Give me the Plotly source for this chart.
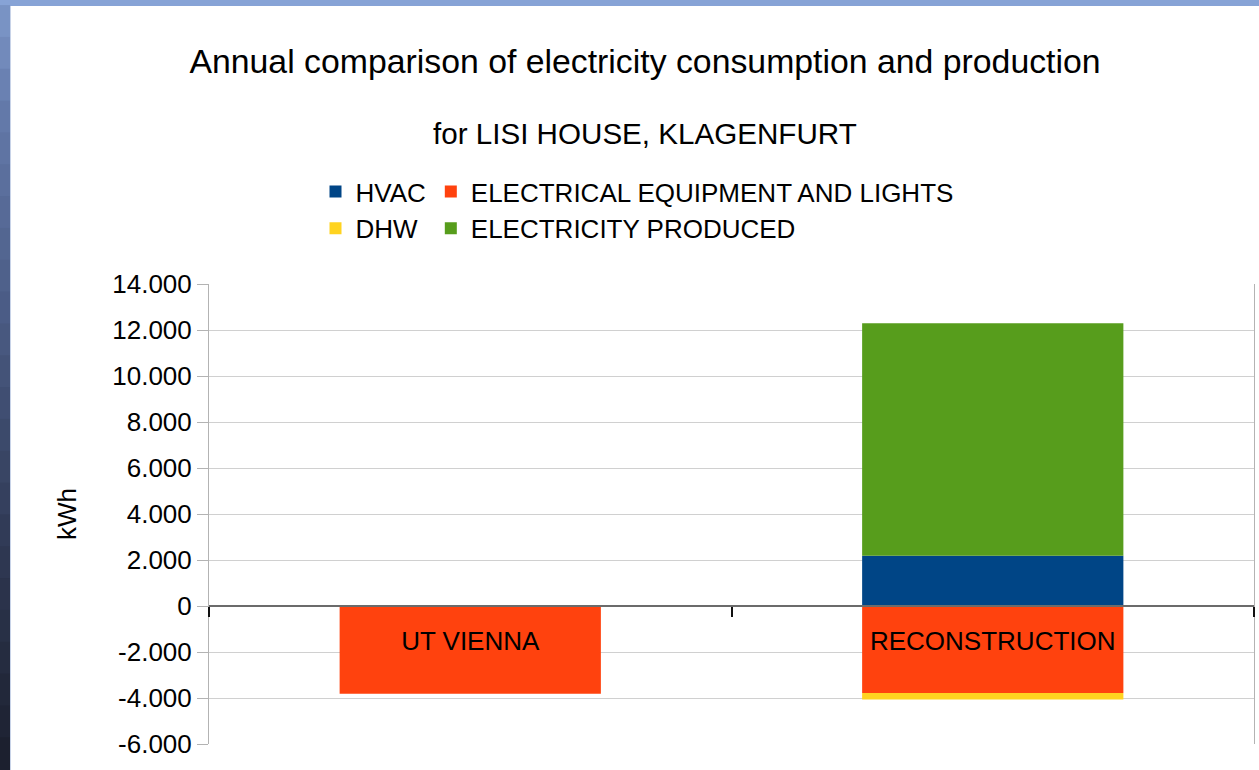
import plotly.graph_objects as go

# ---- data ----
categories = ["UT VIENNA", "RECONSTRUCTION"]
hvac = [0, 2180]
electrical = [-3810, -3780]
dhw = [0, -290]
produced = [0, 10110]
ytick_vals = [-6000, -4000, -2000, 0, 2000, 4000, 6000, 8000, 10000, 12000, 14000]
ytick_text = ["-6.000", "-4.000", "-2.000", "0", "2.000", "4.000", "6.000",
              "8.000", "10.000", "12.000", "14.000"]

FONT = "Liberation Sans, Arial, sans-serif"
W, H = 1259, 770
L, R, T, B = 209, 5, 284, 26
PW, PH = W - L - R, H - T - B

fig = go.Figure()
fig.add_trace(go.Bar(name="HVAC", x=categories, y=hvac, marker_color="#004586",
                     marker_line_width=0, legendgroup="a"))
fig.add_trace(go.Bar(name="ELECTRICAL EQUIPMENT AND LIGHTS", x=categories, y=electrical,
                     marker_color="#ff420e", marker_line_width=0, legendgroup="b"))
fig.add_trace(go.Bar(name="DHW", x=categories, y=dhw, marker_color="#ffd320",
                     marker_line_width=0, legendgroup="a"))
fig.add_trace(go.Bar(name="ELECTRICITY PRODUCED", x=categories, y=produced,
                     marker_color="#579d1c", marker_line_width=0, legendgroup="b"))

# decorative frame (blue strips on the top and left edge)
def px2x(p):
    return (p - L) / PW

def py2y(p):
    return (H - B - p) / PH

shapes = []
shapes.append(dict(type="rect", xref="paper", yref="paper", x0=px2x(0), x1=px2x(W),
                   y0=py2y(6), y1=py2y(0), fillcolor="#87a3d6", line_width=0, layer="below"))
stops = [(0, (0x7d, 0x97, 0xc9)), (0.15, (0x62, 0x78, 0xa8)), (0.4, (0x4b, 0x5c, 0x85)),
         (0.7, (0x30, 0x3a, 0x55)), (1.0, (0x1a, 0x1e, 0x2c))]

def interp(t):
    for i in range(len(stops) - 1):
        t0, c0 = stops[i]
        t1, c1 = stops[i + 1]
        if t0 <= t <= t1:
            f = (t - t0) / (t1 - t0)
            return "rgb(%d,%d,%d)" % tuple(round(c0[k] + (c1[k] - c0[k]) * f) for k in range(3))
    return "rgb(26,30,44)"

nb = 24
for i in range(nb):
    p0 = 6 + (H - 6) * i / nb
    p1 = 6 + (H - 6) * (i + 1) / nb
    shapes.append(dict(type="rect", xref="paper", yref="paper", x0=px2x(0), x1=px2x(10),
                       y0=py2y(p1), y1=py2y(p0) + 0.002, fillcolor=interp((i + 0.5) / nb),
                       line_width=0, layer="below"))
shapes.append(dict(type="rect", xref="paper", yref="paper", x0=px2x(10), x1=px2x(11),
                   y0=py2y(H), y1=py2y(6), fillcolor="#c8d3e8", line_width=0, layer="below"))

fig.update_layout(
    width=W, height=H,
    margin=dict(l=L, r=R, t=T, b=B, autoexpand=False),
    paper_bgcolor="white", plot_bgcolor="white",
    barmode="relative", bargap=0.5,
    font=dict(family=FONT, size=26, color="black"),
    title=dict(text="Annual comparison of electricity consumption and production",
               x=645 / W, xref="container", xanchor="center",
               y=1 - 61 / H, yref="container", yanchor="middle",
               font=dict(family=FONT, size=33.8, color="black")),
    showlegend=True,
    legend=dict(orientation="h", traceorder="grouped", x=px2x(637), xanchor="center",
                y=py2y(168), yanchor="top", font=dict(family=FONT, size=26, color="black"),
                bgcolor="rgba(0,0,0,0)", itemclick=False, itemdoubleclick=False,
                tracegroupgap=4),
    shapes=shapes,
    annotations=[dict(text="for LISI HOUSE, KLAGENFURT", xref="paper", yref="paper",
                      x=px2x(645), y=py2y(133), xanchor="center", yanchor="middle",
                      showarrow=False, font=dict(family=FONT, size=29.6, color="black"))],
)

fig.update_yaxes(
    range=[-6000, 14000], tickvals=ytick_vals, ticktext=ytick_text,
    showgrid=True, gridcolor="#d0d0d0", gridwidth=1,
    zeroline=False,
    showline=True, linecolor="#b3b3b3", linewidth=1, mirror=True,
    ticks="outside", ticklen=11, tickcolor="#b3b3b3", tickwidth=1,
    tickfont=dict(family=FONT, size=26, color="black"),
    title=dict(text="kWh", font=dict(family=FONT, size=26, color="black"), standoff=28),
    fixedrange=True,
)
fig.update_xaxes(
    anchor="free", position=0.3,
    showline=True, linecolor="#6b6b6b", linewidth=2,
    ticks="outside", tickson="boundaries", ticklen=10, tickcolor="#111111", tickwidth=2,
    showgrid=False, zeroline=False,
    tickfont=dict(family=FONT, size=26, color="black"),
    ticklabelstandoff=12,
    fixedrange=True,
)

fig.write_html("out.html", config={"displayModeBar": False},
               post_script="document.body.style.margin='0px';")
